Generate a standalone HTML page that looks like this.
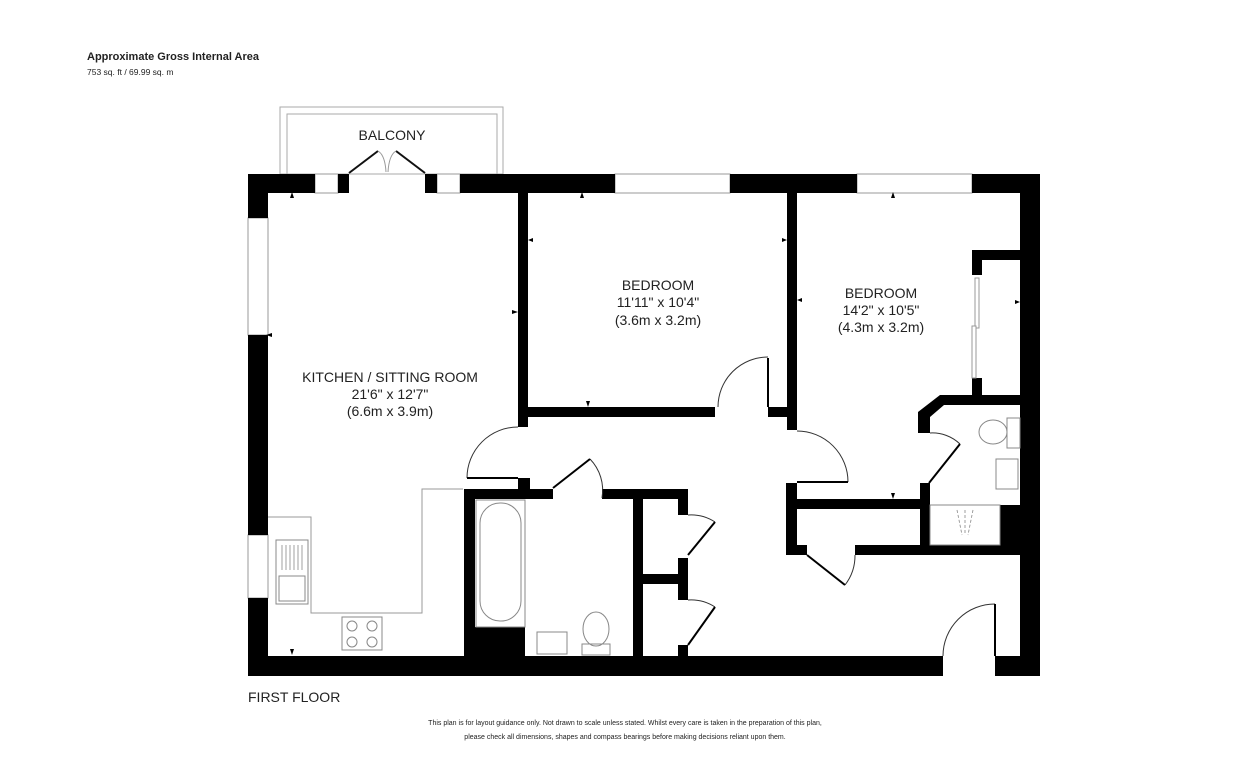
<!DOCTYPE html>
<html><head><meta charset="utf-8"><style>
html,body{margin:0;padding:0;background:#fff;width:1249px;height:766px;overflow:hidden}
svg{display:block}
text{font-family:"Liberation Sans",Arial,sans-serif;fill:#222}
</style></head><body>
<svg width="1249" height="766" viewBox="0 0 1249 766">
<rect width="1249" height="766" fill="#fff"/>
<text x="87" y="60" font-size="11" font-weight="bold">Approximate Gross Internal Area</text>
<text x="87" y="75" font-size="8.5">753 sq. ft / 69.99 sq. m</text>
<!-- balcony -->
<rect x="280" y="107" width="223" height="67" fill="none" stroke="#aaa" stroke-width="1"/>
<rect x="287" y="114" width="210" height="60" fill="none" stroke="#aaa" stroke-width="1"/>
<text x="392" y="140" font-size="14" text-anchor="middle">BALCONY</text>
<g stroke="#111" stroke-width="2"><line x1="349" y1="173" x2="378" y2="151"/><line x1="425" y1="173" x2="396" y2="151"/></g>
<path d="M378 151 Q385 155 386 172 M396 151 Q389 155 388 172" fill="none" stroke="#999" stroke-width="1"/>
<!-- window frames -->
<g fill="#fff" stroke="#999" stroke-width="1">
<rect x="315" y="174" width="23" height="19"/><rect x="437" y="174" width="23" height="19"/>
<rect x="615" y="174" width="115" height="19"/><rect x="857" y="174" width="115" height="19"/>
<rect x="248" y="218" width="20" height="117"/><rect x="248" y="535" width="20" height="63"/>
</g>
<g fill="#000">
<rect x="248" y="174" width="67" height="19"/><rect x="338" y="174" width="11" height="19"/>
<rect x="425" y="174" width="12" height="19"/><rect x="460" y="174" width="155" height="19"/>
<rect x="730" y="174" width="127" height="19"/><rect x="972" y="174" width="68" height="19"/>
<rect x="248" y="174" width="20" height="44"/><rect x="248" y="335" width="20" height="200"/>
<rect x="248" y="598" width="20" height="78"/>
<rect x="248" y="656" width="695" height="20"/><rect x="995" y="656" width="45" height="20"/>
<rect x="1020" y="174" width="20" height="502"/>
<rect x="518" y="193" width="10" height="234"/>
<rect x="528" y="407" width="187" height="10"/><rect x="768" y="407" width="19" height="10"/>
<rect x="787" y="193" width="10" height="237"/>
<rect x="972" y="250" width="48" height="10"/><rect x="972" y="250" width="10" height="25"/>
<rect x="972" y="378" width="10" height="20"/>
<polygon points="940,395 1020,395 1020,405 944,405 930,417 930,433 918,433 918,412"/>
<rect x="920" y="483" width="10" height="72"/>
<rect x="786" y="483" width="11" height="72"/><rect x="797" y="499" width="123" height="10"/>
<rect x="797" y="545" width="10" height="10"/><rect x="855" y="545" width="165" height="10"/>
<rect x="1000" y="505" width="20" height="40"/>
<rect x="518" y="478" width="12" height="20"/>
<rect x="464" y="489" width="89" height="10"/><rect x="602" y="489" width="86" height="10"/>
<rect x="464" y="489" width="11" height="167"/><rect x="633" y="489" width="10" height="167"/>
<rect x="464" y="627" width="61" height="29"/>
<rect x="678" y="489" width="10" height="26"/><rect x="678" y="558" width="10" height="42"/>
<rect x="678" y="645" width="10" height="11"/><rect x="643" y="574" width="45" height="10"/>
</g>
<g fill="#fff" stroke="#999" stroke-width="1"><rect x="975" y="278" width="4" height="50"/><rect x="972" y="326" width="4" height="52"/></g>
<g fill="none" stroke="#333" stroke-width="1">
<path d="M518 427 A51 51 0 0 0 467 478"/>
<path d="M768 357 A50 50 0 0 0 718 407"/>
<path d="M797 431 A51 51 0 0 1 848 482"/>
<path d="M590 459 A45 45 0 0 1 602 498"/>
<path d="M930 433 A40 40 0 0 1 960 444"/>
<path d="M855 555 A48 48 0 0 1 845 585"/>
<path d="M995 604 A52 52 0 0 0 943 656"/>
<path d="M688 515 A44 44 0 0 1 715 522"/>
<path d="M688 600 A44 44 0 0 1 715 607"/>
</g>
<g stroke="#000" stroke-width="2">
<line x1="467" y1="478" x2="518" y2="478"/><line x1="768" y1="358" x2="768" y2="407"/>
<line x1="797" y1="482" x2="848" y2="482"/><line x1="553" y1="488" x2="590" y2="459"/>
<line x1="929" y1="483" x2="960" y2="444"/><line x1="807" y1="555" x2="845" y2="585"/>
<line x1="995" y1="604" x2="995" y2="656"/>
<line x1="688" y1="555" x2="715" y2="522"/><line x1="688" y1="645" x2="715" y2="607"/>
</g>
<polyline points="268,517 311,517 311,613 422,613 422,489 463,489" fill="none" stroke="#999" stroke-width="1"/>
<g fill="none" stroke="#888" stroke-width="1">
<rect x="276" y="540" width="32" height="64"/><rect x="279" y="576" width="26" height="25"/>
<rect x="342" y="617" width="40" height="33"/>
<circle cx="352" cy="626" r="5"/><circle cx="372" cy="626" r="5"/><circle cx="352" cy="642" r="5"/><circle cx="372" cy="642" r="5"/>
<rect x="476" y="500" width="49" height="127"/><rect x="480" y="503" width="41" height="118" rx="20"/>
<rect x="537" y="632" width="30" height="22"/>
<ellipse cx="596" cy="629" rx="13" ry="17"/><rect x="582" y="644" width="28" height="11"/>
<ellipse cx="993" cy="432" rx="14" ry="12"/><rect x="1007" y="418" width="13" height="30"/>
<rect x="996" y="459" width="22" height="30"/>
<rect x="930" y="505" width="70" height="40"/>
</g>
<g stroke="#888" stroke-width="0.8">
<line x1="282" y1="545" x2="282" y2="570"/><line x1="286" y1="545" x2="286" y2="570"/><line x1="290" y1="545" x2="290" y2="570"/><line x1="294" y1="545" x2="294" y2="570"/><line x1="298" y1="545" x2="298" y2="570"/><line x1="302" y1="545" x2="302" y2="570"/>
<line x1="957" y1="510" x2="962" y2="535" stroke-dasharray="3,2"/><line x1="965" y1="510" x2="965" y2="535" stroke-dasharray="3,2"/><line x1="973" y1="510" x2="968" y2="535" stroke-dasharray="3,2"/>
</g>
<g fill="#000">
<polygon points="290,198 294,198 292,192"/><polygon points="580,198 584,198 582,192"/><polygon points="891,198 895,198 893,192"/>
<polygon points="272,333 272,337 266,335"/><polygon points="512,310 512,314 518,312"/>
<polygon points="533,238 533,242 528,240"/><polygon points="782,238 782,242 787,240"/>
<polygon points="802,298 802,302 797,300"/><polygon points="1015,300 1015,304 1020,302"/>
<polygon points="586,401 590,401 588,407"/><polygon points="290,649 294,649 292,655"/>
<polygon points="891,493 895,493 893,499"/>
</g>
<g font-size="14" text-anchor="middle">
<text x="390" y="382">KITCHEN / SITTING ROOM</text><text x="390" y="399">21'6" x 12'7"</text><text x="390" y="416">(6.6m x 3.9m)</text>
<text x="658" y="290">BEDROOM</text><text x="658" y="307">11'11" x 10'4"</text><text x="658" y="325">(3.6m x 3.2m)</text>
<text x="881" y="298">BEDROOM</text><text x="881" y="315">14'2" x 10'5"</text><text x="881" y="332">(4.3m x 3.2m)</text>
</g>
<text x="248" y="702" font-size="14">FIRST FLOOR</text>
<g font-size="7" text-anchor="middle">
<text x="625" y="725">This plan is for layout guidance only.  Not drawn to scale unless stated. Whilst every care is taken in the preparation of this plan,</text>
<text x="625" y="739">please check all dimensions, shapes and compass bearings before making decisions reliant upon them.</text>
</g>
</svg>
</body></html>
